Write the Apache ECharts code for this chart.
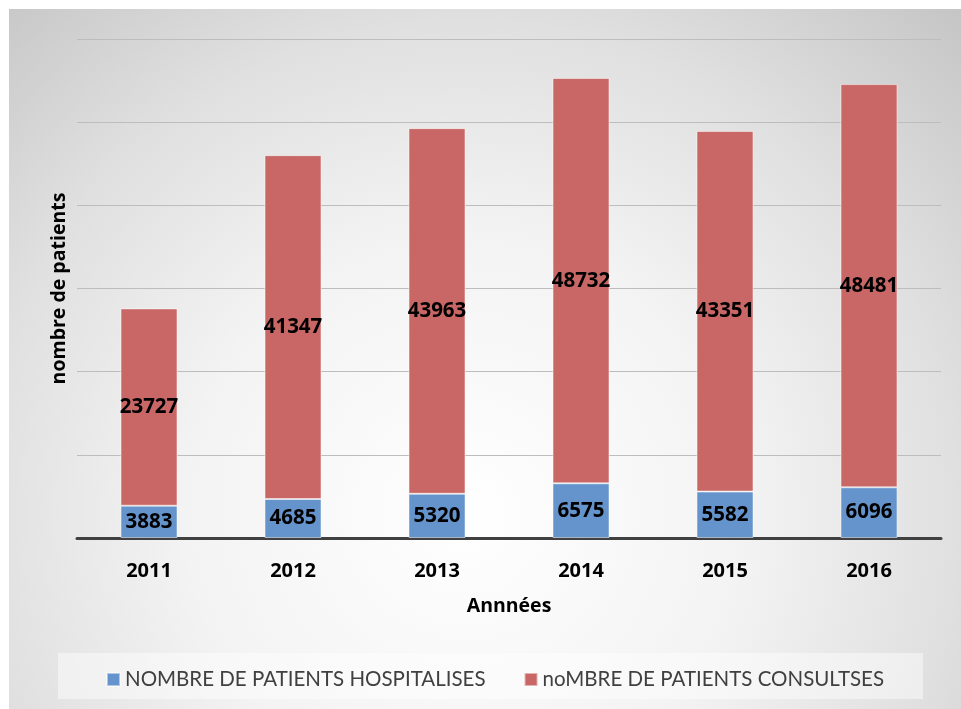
<!DOCTYPE html>
<html>
<head>
<meta charset="utf-8">
<script src="https://cdn.jsdelivr.net/npm/echarts@6/dist/echarts.min.js"></script>
<style>
  html, body { margin: 0; padding: 0; background: #fff; }
  #chartcontainer { width: 961px; height: 709px; }
</style>
</head>
<body>
<div id="chartcontainer"></div>
<script>
  const years = ['2011', '2012', '2013', '2014', '2015', '2016']
  const hospitalises = [3883, 4685, 5320, 6575, 5582, 6096]
  const consultes = [23727, 41347, 43963, 48732, 43351, 48481]
  const legendnames = ['NOMBRE DE PATIENTS HOSPITALISES', 'noMBRE DE PATIENTS CONSULTSES']

  const chart = echarts.init(document.getElementById('chartcontainer'))

  const barlabel = {
    show: true,
    position: 'inside',
    color: '#000',
    fontFamily: 'Open Sans',
    fontWeight: 'bold',
    fontSize: 20.5
  }

  chart.setOption({
    animation: false,
    textStyle: { fontFamily: 'Open Sans' },
    graphic: [
      {
        type: 'rect',
        z: -10,
        shape: { x: 9, y: 9, width: 952, height: 700 },
        style: {
          fill: {
            type: 'radial', x: 0.48, y: 0.72, r: 1.0,
            colorStops: [
              { offset: 0, color: '#ffffff' },
              { offset: 0.4, color: '#f3f3f3' },
              { offset: 0.7, color: '#e0e0e0' },
              { offset: 1, color: '#c6c6c6' }
            ]
          }
        }
      },
      {
        type: 'rect',
        z: -9,
        shape: { x: 58, y: 653, width: 865, height: 46 },
        style: { fill: 'rgba(255,255,255,0.45)' }
      }
    ],
    legend: {
      data: legendnames,
      left: 101,
      top: 664,
      itemWidth: 13,
      itemHeight: 13,
      itemGap: 38,
      icon: 'rect',
      textStyle: { color: '#404040', fontSize: 20.5, fontFamily: 'Lato' }
    },
    grid: {
      left: 77,
      right: 20,
      top: 39,
      bottom: 171
    },
    xAxis: {
      type: 'category',
      data: years,
      name: 'Annnées',
      nameLocation: 'middle',
      nameGap: 58,
      nameTextStyle: { color: '#000', fontWeight: 'bold', fontSize: 19.5 },
      axisLine: { lineStyle: { color: '#404040', width: 3 } },
      axisTick: { show: false },
      axisLabel: { color: '#000', fontWeight: 'bold', fontSize: 20, margin: 23 }
    },
    yAxis: {
      type: 'value',
      min: 0,
      max: 60000,
      interval: 10000,
      name: 'nombre de patients',
      nameLocation: 'middle',
      nameRotate: 90,
      nameGap: 8,
      nameTextStyle: { color: '#000', fontWeight: 'bold', fontSize: 19.5 },
      axisLabel: { show: false },
      axisLine: { show: false },
      axisTick: { show: false },
      splitLine: { lineStyle: { color: '#bdbdbd', width: 1 } }
    },
    series: [
      {
        name: legendnames[0],
        type: 'bar',
        stack: 'total',
        barWidth: 57,
        data: hospitalises,
        itemStyle: { color: '#6593cb', borderColor: 'rgba(255,255,255,0.5)', borderWidth: 1 },
        label: barlabel
      },
      {
        name: legendnames[1],
        type: 'bar',
        stack: 'total',
        barWidth: 57,
        data: consultes,
        itemStyle: { color: '#c86765', borderColor: 'rgba(255,255,255,0.5)', borderWidth: 1 },
        label: barlabel
      }
    ]
  })
</script>
</body>
</html>
